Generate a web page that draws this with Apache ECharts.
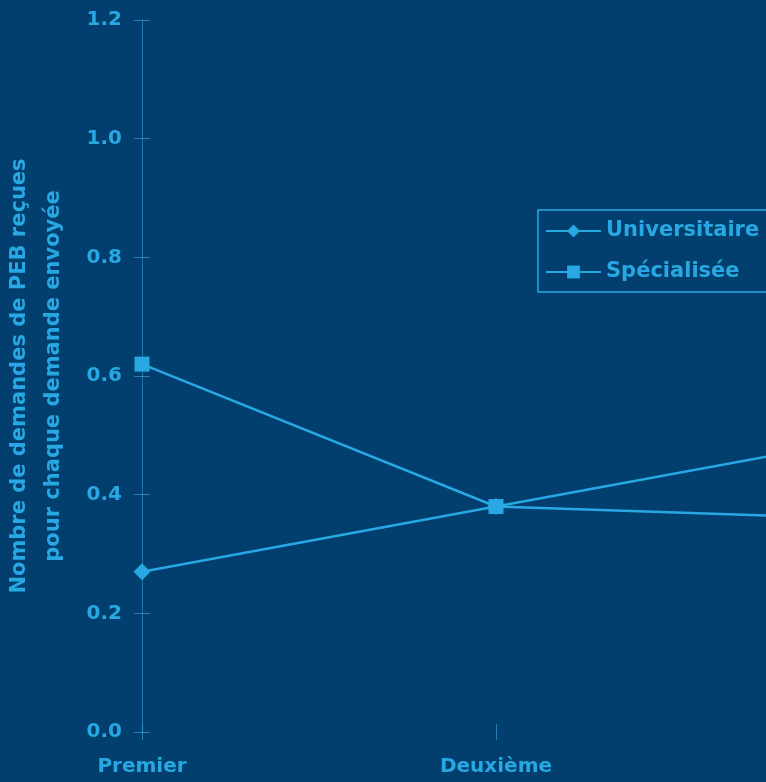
<!DOCTYPE html>
<html>
<head>
<meta charset="utf-8">
<script src="https://cdn.jsdelivr.net/npm/echarts@6/dist/echarts.min.js"></script>
<style>
html,body{margin:0;padding:0;background:#023f6e;}
#c{width:766px;height:782px;}
</style>
</head>
<body>
<div id="c"></div>
<script>
var categories = ['Premier', 'Deuxième', 'Troisième'];
var universitaire = [0.27, 0.38, 0.49];
var specialisee = [0.62, 0.38, 0.36];
var yTicks = {min: 0, max: 1.2, interval: 0.2};
var seriesNames = ['Universitaire', 'Spécialisée'];
var yName = 'Nombre de demandes de PEB reçues\npour chaque demande envoyée';

var FG = '#28a8e3';
var FONT = 'DejaVu Sans';
var chart = echarts.init(document.getElementById('c'));
chart.setOption({
  backgroundColor: '#023f6e',
  animation: false,
  grid: {left: 142, right: -84, top: 20, bottom: 50, containLabel: false, outerBoundsMode: 'none'},
  legend: {
    orient: 'vertical',
    left: 538, top: 210,
    padding: [10, 12, 9, 7],
    itemGap: 19,
    itemWidth: 55, itemHeight: 16,
    borderColor: FG, borderWidth: 1.5,
    textStyle: {color: FG, fontFamily: FONT, fontWeight: 'bold', fontSize: 21, lineHeight: 22},
    data: seriesNames
  },
  xAxis: [{
    type: 'category', data: categories, boundaryGap: false,
    axisLine: {show: false},
    axisTick: {show: true, length: 8, lineStyle: {color: 'rgba(60,170,230,0.6)'}},
    axisLabel: {color: FG, fontFamily: FONT, fontWeight: 'bold', fontSize: 20, margin: 25},
    splitLine: {show: false}
  }, {
    type: 'category', data: categories, boundaryGap: false, position: 'bottom',
    axisLine: {show: false},
    axisTick: {show: true, inside: true, length: 8, lineStyle: {color: 'rgba(60,170,230,0.6)'}},
    axisLabel: {show: false}, splitLine: {show: false}
  }],
  yAxis: [{
    type: 'value', min: yTicks.min, max: yTicks.max, interval: yTicks.interval,
    axisLine: {show: true, lineStyle: {color: 'rgba(60,170,230,0.5)', width: 1}},
    axisTick: {show: true, length: 8, lineStyle: {color: 'rgba(60,170,230,0.6)'}},
    axisLabel: {color: FG, fontFamily: FONT, fontWeight: 'bold', fontSize: 20, margin: 20,
      formatter: function(v){ return v.toFixed(1); }},
    splitLine: {show: false},
    name: yName, nameLocation: 'middle', nameRotate: 90, nameGap: 71,
    nameTextStyle: {color: FG, fontFamily: FONT, fontWeight: 'bold', fontSize: 21, lineHeight: 34}
  }, {
    type: 'value', min: yTicks.min, max: yTicks.max, interval: yTicks.interval, position: 'left',
    axisLine: {show: false},
    axisTick: {show: true, inside: true, length: 8, lineStyle: {color: 'rgba(60,170,230,0.6)'}},
    axisLabel: {show: false}, splitLine: {show: false}
  }],
  series: [{
    name: seriesNames[0], type: 'line', data: universitaire,
    symbol: 'diamond', symbolSize: 17, color: FG,
    lineStyle: {color: FG, width: 2.5}, itemStyle: {color: FG}, z: 2
  }, {
    name: seriesNames[1], type: 'line', data: specialisee,
    symbol: 'rect', symbolSize: 15, color: FG,
    lineStyle: {color: FG, width: 2.5}, itemStyle: {color: FG}, z: 3
  }]
});
</script>
</body>
</html>
